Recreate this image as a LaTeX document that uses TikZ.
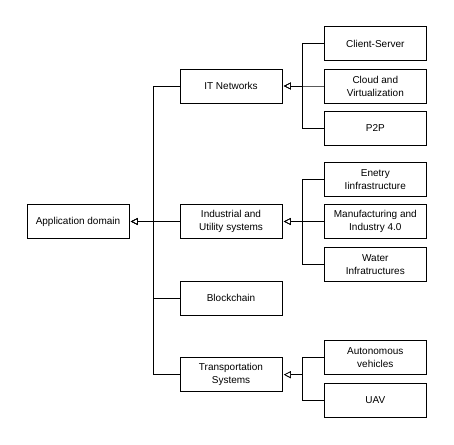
\documentclass[tikz,border=0pt]{standalone}
\usepackage{fontspec}
\setmainfont{Liberation Sans}
\usetikzlibrary{arrows.meta}

\begin{document}
\begin{tikzpicture}[x=1pt, y=-1pt,
    box/.style={draw, line width=0.9pt, minimum width=102pt, minimum height=34pt, inner sep=1pt, align=center, font=\fontsize{10}{13}\selectfont},
    link/.style={line width=0.9pt, -{Triangle[open, length=7pt, width=7pt, line width=0.6pt]}, shorten >=1.5pt}]
    \useasboundingbox (0,0) rectangle (454,444);
    \node[box](root) at (78,221.5){Application domain};
    \node[box](it) at (231,86){IT Networks};
    \node[box](ind) at (231,221.5){Industrial and\\Utility systems};
    \node[box](bc) at (231,298.3){Blockchain};
    \node[box](tr) at (231,374.7){Transportation\\Systems};
    \node[box](cs) at (375.3,43.7){Client-Server};
    \node[box](cv) at (375.3,86){Cloud and\\Virtualization};
    \node[box](pp) at (375.3,128.3){P2P};
    \node[box](en) at (375.3,179.7){Enetry\\Iinfrastructure};
    \node[box](mf) at (375.3,221.5){Manufacturing and\\Industry 4.0};
    \node[box](wa) at (375.3,264.3){Water\\Infratructures};
    \node[box](av) at (375.3,357.5){Autonomous\\vehicles};
    \node[box](ua) at (375.3,400.3){UAV};
    \foreach \c in {it,ind,bc,tr}
        \draw[link](\c.west)--++(-26,0)|-(root.east);
    \foreach \c in {cs,cv,pp}
        \draw[link](\c.west)--++(-21,0)|-(it.east);
    \foreach \c in {en,mf,wa}
        \draw[link](\c.west)--++(-21,0)|-(ind.east);
    \foreach \c in {av,ua}
        \draw[link](\c.west)--++(-21,0)|-(tr.east);
\end{tikzpicture}
\end{document}
